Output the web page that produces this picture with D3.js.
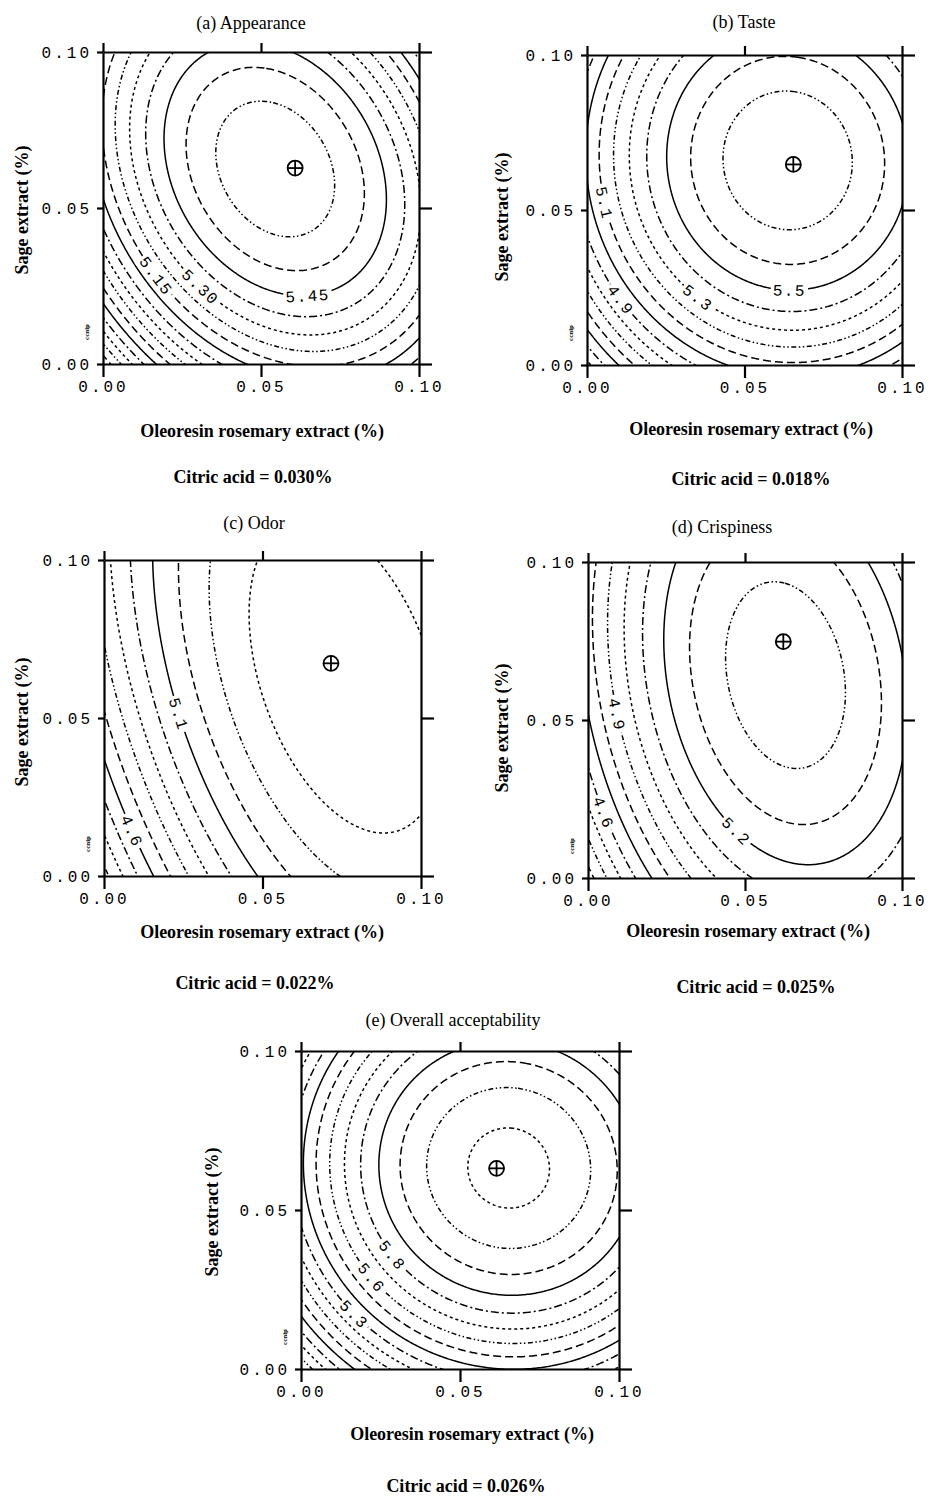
<!DOCTYPE html>
<html>
<head>
<meta charset="utf-8">
<script src="https://cdn.jsdelivr.net/npm/d3@7"></script>
<style>
  body { margin: 0; background: #fff; }
  svg { display: block; }
  .axis text { font-family: "Liberation Mono", monospace; font-size: 16px; letter-spacing: 3px; fill: #000; }
  .axis .domain, .axis .tick line { stroke: #000; stroke-width: 2.2; }
  .title { font-family: "Liberation Serif", serif; font-size: 18px; }
  .lab { font-family: "Liberation Serif", serif; font-size: 18px; font-weight: bold; }
  .tiny { font-family: "Liberation Serif", serif; font-size: 7px; font-weight: bold; }
  .clabel { font-family: "Liberation Mono", monospace; font-size: 16px; letter-spacing: 1.5px; fill: #000; }
</style>
</head>
<body>
<svg id="fig" width="930" height="1502"></svg>
<script>
// ---- data ----
const panelTitles = ["(a) Appearance", "(b) Taste", "(c) Odor", "(d) Crispiness", "(e) Overall acceptability"];
const citricAcid = ["0.030", "0.018", "0.022", "0.025", "0.026"];
const axisTicks = [0, 0.05, 0.10];

// optimum marker (⊕)
const optimumX = [0.0608, 0.0655, 0.0716, 0.0622, 0.0615];
const optimumY = [0.0628, 0.0647, 0.0673, 0.0748, 0.0631];

// fitted second-order surfaces: peak - (a*du^2 + b*dv^2 + c*du*dv), du,dv in units of 0.1 %
const surfaceX = [0.0545, 0.0637, 0.0762, 0.0629, 0.0653];
const surfaceY = [0.0625, 0.0660, 0.0633, 0.0642, 0.0632];
const surfacePeak = [5.66, 5.78, 5.50, 5.464, 6.233];
const curvature = [
  [1.80, 1.35, 0.75],
  [1.90, 1.60, 0.10],
  [1.28, 0.48, 0.62],
  [1.82, 0.76, 0.44],
  [2.00, 2.08, 0.10]
];

const contourLevels = [
  [5.600, 5.525, 5.450, 5.375, 5.300, 5.225, 5.150, 5.075, 5.000, 4.925, 4.850, 4.775, 4.700, 4.625, 4.550, 4.475, 4.400],
  [5.7, 5.6, 5.5, 5.4, 5.3, 5.2, 5.1, 5.0, 4.9, 4.8, 4.7, 4.6, 4.5, 4.4, 4.3],
  [5.4, 5.3, 5.2, 5.1, 5.0, 4.9, 4.8, 4.7, 4.6, 4.5, 4.4, 4.3],
  [5.4, 5.3, 5.2, 5.1, 5.0, 4.9, 4.8, 4.7, 4.6, 4.5, 4.4, 4.3],
  [6.2, 6.1, 6.0, 5.9, 5.8, 5.7, 5.6, 5.5, 5.4, 5.3, 5.2, 5.1, 5.0, 4.9, 4.8, 4.7, 4.6]
];

// labelled contours and roughly where the label sits
const labelValues = [[5.45, 5.30, 5.15], [5.5, 5.3, 5.1, 4.9], [5.1, 4.6], [5.2, 4.9, 4.6], [5.8, 5.6, 5.3]];
const labelX = [[0.0646, 0.0301, 0.0142], [0.0644, 0.0368, 0.0089, 0.0121], [0.0240, 0.0107], [0.0490, 0.0118, 0.0070], [0.0280, 0.0211, 0.0176]];
const labelY = [[0.0253, 0.0237, 0.0260], [0.0265, 0.0242, 0.0532, 0.0219], [0.0516, 0.0152], [0.0168, 0.0522, 0.0215], [0.0352, 0.0280, 0.0176]];

// ---- layout ----
const layout = [
  {left: 103, top: 52, width: 316, height: 312, titleX: 251, titleY: 29, yLabX: 22, yLabY: 210, xLabX: 262, xLabY: 437, acidX: 253, acidY: 483, shift: 0, digits: 2},
  {left: 587, top: 55, width: 315, height: 310, titleX: 744, titleY: 28, yLabX: 502, yLabY: 217, xLabX: 751, xLabY: 435, acidX: 751, acidY: 485, shift: 0, digits: 1},
  {left: 104, top: 560, width: 317, height: 316, titleX: 254, titleY: 529, yLabX: 22, yLabY: 722, xLabX: 262, xLabY: 938, acidX: 255, acidY: 989, shift: 4, digits: 1},
  {left: 588, top: 562, width: 314, height: 316, titleX: 722, titleY: 533, yLabX: 502, yLabY: 728, xLabX: 748, xLabY: 937, acidX: 756, acidY: 993, shift: 0, digits: 1},
  {left: 301, top: 1051, width: 318, height: 318, titleX: 453, titleY: 1026, yLabX: 212, yLabY: 1212, xLabX: 472, xLabY: 1440, acidX: 466, acidY: 1492, shift: 4, digits: 1}
];
// plotter line types, cycled through the levels
const dashCycle = ["5,2.5,1.5,2.5,1.5,2.5", "8,4", null, "8,3,2,3", "3,3"];

const svg = d3.select("#fig");
const n = 240, x0 = -0.01, cell = 0.12 / n;

function surface(k, x, y) {
  const du = (x - surfaceX[k]) / 0.1, dv = (y - surfaceY[k]) / 0.1;
  const [a, b, c] = curvature[k];
  return surfacePeak[k] - (a * du * du + b * dv * dv + c * du * dv);
}

layout.forEach((L, k) => {
  const xs = d3.scaleLinear().domain([0, 0.1]).range([0, L.width]);
  const ys = d3.scaleLinear().domain([0, 0.1]).range([L.height, 0]);
  const g = svg.append("g").attr("transform", `translate(${L.left},${L.top})`);

  g.append("clipPath").attr("id", "clip" + k)
    .append("rect").attr("width", L.width).attr("height", L.height);

  // grid of the response surface
  const values = new Float64Array(n * n);
  for (let j = 0; j < n; j++)
    for (let i = 0; i < n; i++)
      values[j * n + i] = surface(k, x0 + (i + 0.5) * cell, x0 + (j + 0.5) * cell);

  const gen = d3.contours().size([n, n]);
  const toPx = (p) => [xs(x0 + p[0] * cell), ys(x0 + p[1] * cell)];
  const path = d3.geoPath(d3.geoTransform({
    point(px, py) { const q = toPx([px, py]); this.stream.point(q[0], q[1]); }
  }));

  const cg = g.append("g").attr("clip-path", `url(#clip${k})`);
  contourLevels[k].forEach((lev, li) => {
    cg.append("path")
      .attr("d", path(gen.contour(values, lev)))
      .attr("fill", "none")
      .attr("stroke", "#000")
      .attr("stroke-width", 1.5)
      .attr("stroke-dasharray", dashCycle[(li + L.shift) % dashCycle.length]);
  });

  // contour labels, snapped onto their line, with a white gap behind
  const fmt = d3.format("." + L.digits + "f");
  labelValues[k].forEach((v, li) => {
    const geom = gen.contour(values, v);
    const ax = xs(labelX[k][li]), ay = ys(labelY[k][li]);
    let best = null;
    geom.coordinates.forEach(poly => poly.forEach(ring => {
      const pts = ring.map(toPx);
      pts.forEach((p, i) => {
        if (p[0] < 10 || p[0] > L.width - 10 || p[1] < 10 || p[1] > L.height - 10) return;
        const d = (p[0] - ax) ** 2 + (p[1] - ay) ** 2;
        if (!best || d < best.d) {
          const a = pts[(i - 3 + pts.length) % pts.length], b = pts[(i + 3) % pts.length];
          best = {d, p, ang: Math.atan2(b[1] - a[1], b[0] - a[0]) * 180 / Math.PI};
        }
      });
    }));
    if (!best) return;
    let ang = best.ang;
    if (ang > 90) ang -= 180;
    if (ang <= -90) ang += 180;
    const lg = g.append("g").attr("transform", `translate(${best.p[0]},${best.p[1]}) rotate(${ang})`);
    const t = lg.append("text").attr("class", "clabel")
      .attr("text-anchor", "middle").attr("dy", "0.35em").text(fmt(v));
    const bb = t.node().getBBox();
    lg.insert("rect", "text")
      .attr("x", bb.x - 2).attr("y", bb.y + 1)
      .attr("width", bb.width + 4).attr("height", bb.height - 2)
      .attr("fill", "#fff");
  });

  // frame with ticks
  const tf = d3.format(".2f");
  g.append("g").attr("class", "axis")
    .call(d3.axisTop(xs).tickValues(axisTicks).tickSize(9).tickSizeOuter(0).tickFormat(""));
  g.append("g").attr("class", "axis").attr("transform", `translate(${L.width},0)`)
    .call(d3.axisRight(ys).tickValues(axisTicks).tickSize(13).tickSizeOuter(0).tickFormat(""));
  g.append("g").attr("class", "axis").attr("transform", `translate(0,${L.height})`)
    .call(d3.axisBottom(xs).tickValues(axisTicks).tickSize(13).tickSizeOuter(0).tickPadding(4).tickFormat(tf));
  g.append("g").attr("class", "axis")
    .call(d3.axisLeft(ys).tickValues(axisTicks).tickSize(6).tickSizeOuter(0).tickPadding(5).tickFormat(tf));

  // optimum marker
  const mx = xs(optimumX[k]), my = ys(optimumY[k]), r = 7.5;
  const mk = g.append("g").attr("stroke", "#000").attr("stroke-width", 1.8).attr("fill", "none");
  mk.append("circle").attr("cx", mx).attr("cy", my).attr("r", r);
  mk.append("line").attr("x1", mx - r).attr("x2", mx + r).attr("y1", my).attr("y2", my);
  mk.append("line").attr("x1", mx).attr("x2", mx).attr("y1", my - r).attr("y2", my + r);

  // small rotated plot stamp near the lower left
  g.append("text").attr("class", "tiny")
    .attr("transform", `translate(-14,${L.height - 32}) rotate(-90)`)
    .attr("text-anchor", "middle").text("ccnip");

  // texts
  svg.append("text").attr("class", "title").attr("x", L.titleX).attr("y", L.titleY)
    .attr("text-anchor", "middle").text(panelTitles[k]);
  svg.append("text").attr("class", "lab")
    .attr("transform", `translate(${L.yLabX},${L.yLabY}) rotate(-90)`)
    .attr("text-anchor", "middle").attr("dy", "0.35em").text("Sage extract (%)");
  svg.append("text").attr("class", "lab").attr("x", L.xLabX).attr("y", L.xLabY)
    .attr("text-anchor", "middle").text("Oleoresin rosemary extract (%)");
  svg.append("text").attr("class", "lab").attr("x", L.acidX).attr("y", L.acidY)
    .attr("text-anchor", "middle").text(`Citric acid = ${citricAcid[k]}%`);
});
</script>
</body>
</html>
